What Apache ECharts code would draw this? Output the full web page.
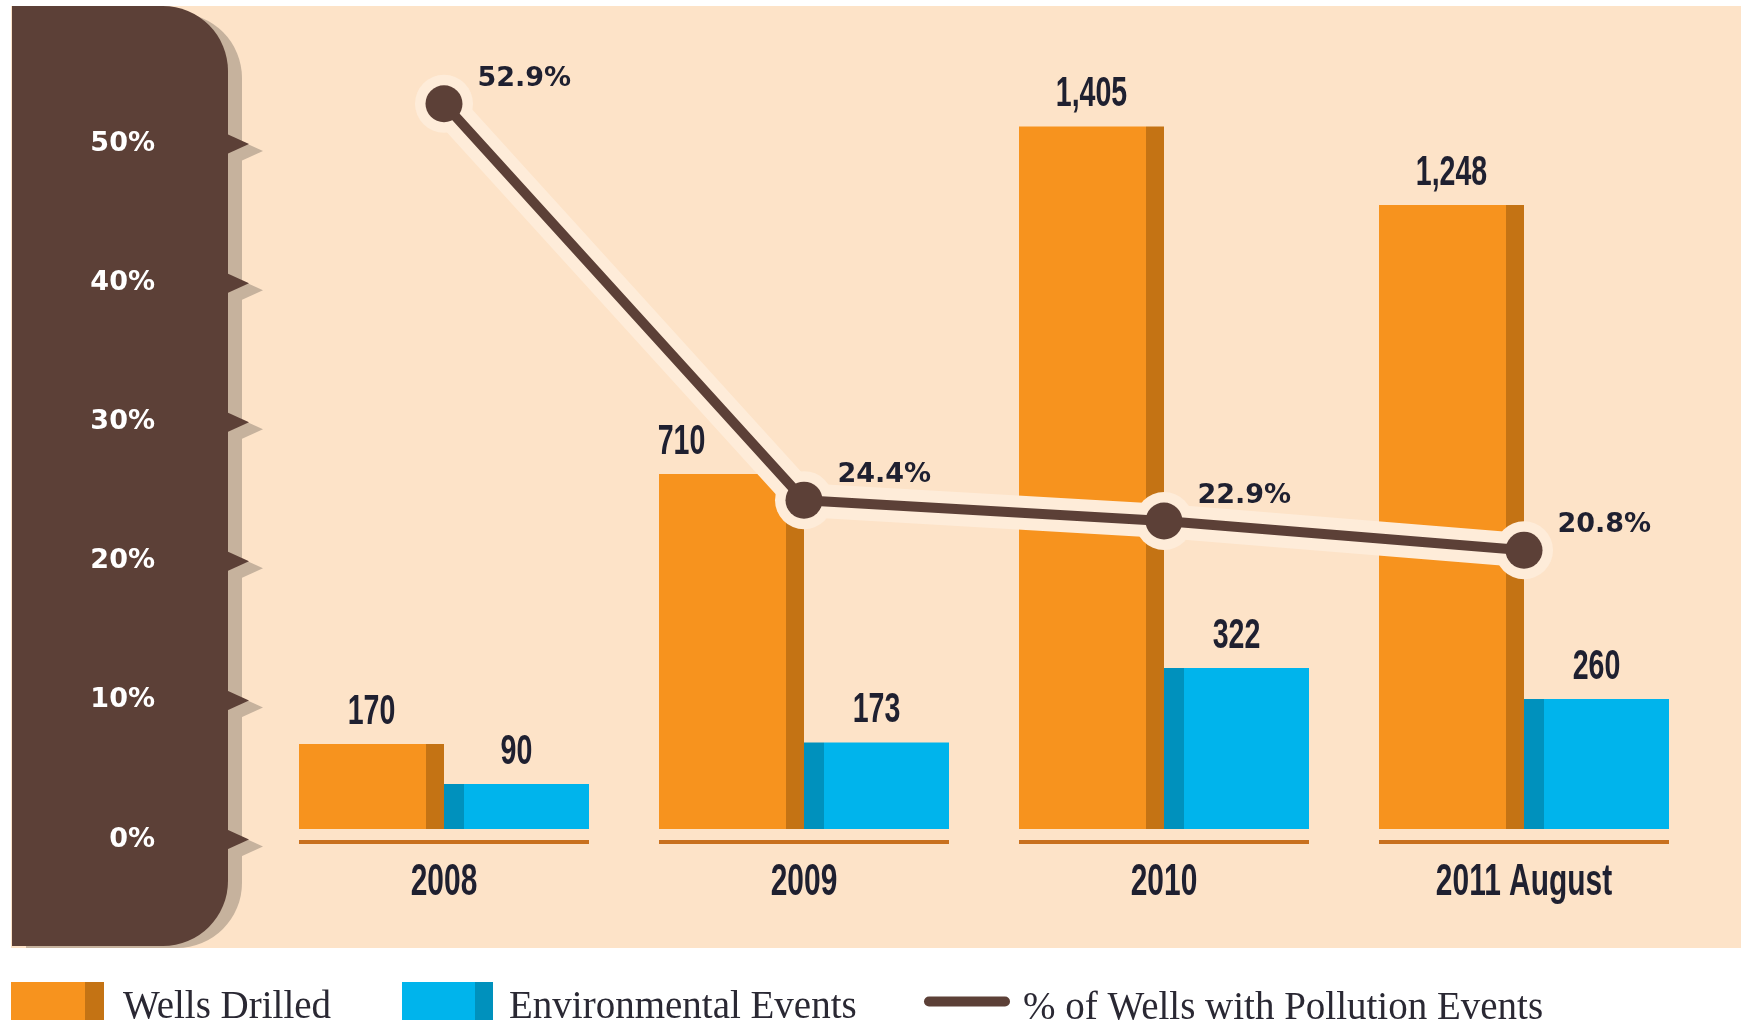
<!DOCTYPE html>
<html>
<head>
<meta charset="utf-8">
<title>Wells Drilled and Environmental Events</title>
<script src="https://cdn.jsdelivr.net/npm/echarts@6/dist/echarts.min.js"></script>
<style>
  html, body { margin: 0; padding: 0; background: #ffffff; }
  #chart { width: 1748px; height: 1023px; }
</style>
</head>
<body>
<div id="chart"></div>
<script>
// data
const years = ['2008', '2009', '2010', '2011 August'];
const wellsDrilled = [170, 710, 1405, 1248];
const envEvents = [90, 173, 322, 260];
const pollutionPct = [52.9, 24.4, 22.9, 20.8];
const pctTicks = [0, 10, 20, 30, 40, 50];
const seriesNames = ['Wells Drilled', 'Environmental Events', '% of Wells with Pollution Events'];

// colours
const peach = '#fde3c8';
const brown = '#5c4037';
const brownShadow = '#c6b29d';
const orange = '#f7931e';
const orangeDark = '#c47314';
const blue = '#00b4ec';
const blueDark = '#0091bd';
const glow = '#feecd9';
const ink = '#1f2030';
const underline = '#c8701e';

// sizes
const BAR_W = 145;
const gothicValue = 'bold 42px "Liberation Sans", "DejaVu Sans", sans-serif';   // squeezed with scaleX
const gothicYear = 'bold 44px "Liberation Sans", "DejaVu Sans", sans-serif';
const SQUEEZE = 0.68;
const wellsLabelNudge = [0, -50, 0, 0];   // the 2009 label sits left of the line

// hard-edged gradient = flat face + darker side strip
function split(c1, c2, at) {
    return new echarts.graphic.LinearGradient(0, 0, 1, 0, [
        { offset: 0, color: c1 }, { offset: at, color: c1 },
        { offset: at, color: c2 }, { offset: 1, color: c2 }
    ]);
}

// condensed value labels above the bars (side: -1 left bar, +1 right bar)
function valueLabels(values, side, nudge) {
    return {
        type: 'custom', xAxisIndex: 0, yAxisIndex: 0, z: 6, silent: true,
        data: values.map((v, i) => [i, v]),
        renderItem: (params, api) => {
            const p = api.coord([api.value(0), api.value(1)]);
            const dx = side * BAR_W / 2 + (nudge ? nudge[params.dataIndex] : 0);
            return {
                type: 'text', x: p[0] + dx, y: p[1] - 11, scaleX: SQUEEZE,
                style: {
                    text: api.value(1).toLocaleString('en-US'),
                    align: 'center', verticalAlign: 'bottom',
                    font: gothicValue, fill: ink
                }
            };
        }
    };
}

// serif legend text, pushed a little below the swatch centre
function legendText(gap) {
    return {
        rich: {
            t: {
                fontFamily: '"Liberation Serif", serif', fontSize: 39, color: '#2a2833',
                padding: [14, 0, 0, gap]
            }
        }
    };
}

const chart = echarts.init(document.getElementById('chart'));

const pill = 'path://M5,0 H81 A5,5 0 0 1 81,10 H5 A5,5 0 0 1 5,0 Z';

const option = {
    animation: false,
    backgroundColor: '#ffffff',
    grid: [
        { left: 264, right: 44, top: 29, bottom: 194 },     // bars
        { left: 264, right: 44, top: 5, bottom: 183.5 }      // percentage line
    ],
    xAxis: [
        { type: 'category', gridIndex: 0, data: years, show: false },
        { type: 'category', gridIndex: 1, data: years, show: false }
    ],
    yAxis: [
        { type: 'value', gridIndex: 0, min: 0, max: 1600, show: false },
        {
            type: 'value', gridIndex: 1, min: 0, max: 60, interval: 10,
            axisLine: { show: false }, axisTick: { show: false }, splitLine: { show: false },
            axisLabel: {
                margin: 109, showMaxLabel: false,
                formatter: v => v + '%',
                padding: [8, 0, 0, 0],
                fontFamily: '"DejaVu Sans", sans-serif', fontWeight: 'bold', fontSize: 27, color: '#ffffff'
            }
        }
    ],
    legend: [
        {
            data: [{ name: seriesNames[0], itemStyle: { color: split(orange, orangeDark, 0.8) } }],
            left: 11, top: 982, padding: 0, itemWidth: 93, itemHeight: 38, icon: 'rect', selectedMode: false,
            formatter: '{t|{name}}', textStyle: legendText(14)
        },
        {
            data: [{ name: seriesNames[1], itemStyle: { color: split(blue, blueDark, 0.8) } }],
            left: 402, top: 982, padding: 0, itemWidth: 91, itemHeight: 38, icon: 'rect', selectedMode: false,
            formatter: '{t|{name}}', textStyle: legendText(11)
        },
        {
            data: [{ name: seriesNames[2], icon: pill, itemStyle: { color: brown } }],
            left: 924, top: 989, padding: 0, itemWidth: 86, itemHeight: 12, selectedMode: false,
            formatter: '{t|{name}}', textStyle: legendText(8)
        }
    ],
    series: [
        {
            name: seriesNames[0], type: 'bar', xAxisIndex: 0, yAxisIndex: 0,
            data: wellsDrilled, barWidth: BAR_W, barGap: '0%',
            itemStyle: { color: split(orange, orangeDark, 0.875) }
        },
        {
            name: seriesNames[1], type: 'bar', xAxisIndex: 0, yAxisIndex: 0,
            data: envEvents, barWidth: BAR_W,
            itemStyle: { color: split(blueDark, blue, 0.135) }
        },
        {
            // light halo under the line
            name: 'halo', type: 'line', xAxisIndex: 1, yAxisIndex: 1,
            data: pollutionPct, silent: true, z: 3,
            symbol: 'circle', symbolSize: 58,
            lineStyle: { color: glow, width: 34 },
            itemStyle: { color: glow }
        },
        {
            name: seriesNames[2], type: 'line', xAxisIndex: 1, yAxisIndex: 1,
            data: pollutionPct, z: 4,
            symbol: 'circle', symbolSize: 37,
            lineStyle: { color: brown, width: 10 },
            itemStyle: { color: brown },
            label: {
                show: true, position: 'right', distance: 15, offset: [0, -25],
                formatter: p => p.value.toFixed(1) + '%',
                fontFamily: '"DejaVu Sans", sans-serif', fontWeight: 'bold', fontSize: 27, color: ink
            }
        },
        valueLabels(wellsDrilled, -1, wellsLabelNudge),
        valueLabels(envEvents, 1, null),
        {
            // per-category underline and year label
            type: 'custom', xAxisIndex: 0, yAxisIndex: 0, z: 6, silent: true,
            data: years.map((y, i) => [i, 0]),
            renderItem: (params, api) => {
                const p = api.coord([api.value(0), 0]);
                return {
                    type: 'group',
                    children: [
                        {
                            type: 'line',
                            shape: { x1: p[0] - BAR_W, y1: p[1] + 13, x2: p[0] + BAR_W, y2: p[1] + 13 },
                            style: { stroke: underline, lineWidth: 4 }
                        },
                        {
                            type: 'text', x: p[0], y: p[1] + 54, scaleX: SQUEEZE,
                            style: {
                                text: years[params.dataIndex],
                                align: 'center', verticalAlign: 'middle',
                                font: gothicYear, fill: ink
                            }
                        }
                    ]
                };
            }
        }
    ]
};

chart.setOption(option);

// left brown axis panel with notch ticks, placed from the axis scale
const tickYs = pctTicks.map(v => chart.convertToPixel({ yAxisIndex: 1 }, v));
const panelX = 12, panelW = 216, sx = 14, sy = 7;
const graphics = [
    { type: 'rect', z: -30, silent: true, shape: { x: 11, y: 6, width: 1730, height: 942 }, style: { fill: peach } },
    { type: 'rect', z: -25, silent: true, shape: { x: panelX + sx, y: 6 + sy, width: panelW, height: 935, r: [0, 65, 65, 0] }, style: { fill: brownShadow } },
    { type: 'rect', z: -20, silent: true, shape: { x: panelX, y: 6, width: panelW, height: 940, r: [0, 65, 65, 0] }, style: { fill: brown } }
];
const edge = panelX + panelW - 1;
tickYs.forEach(y => {
    graphics.push({
        type: 'polygon', z: -25, silent: true,
        shape: { points: [[edge + sx, y - 10 + sy], [edge + 22 + sx, y + sy], [edge + sx, y + 10 + sy]] },
        style: { fill: brownShadow }
    });
    graphics.push({
        type: 'polygon', z: -20, silent: true,
        shape: { points: [[edge, y - 10], [edge + 22, y], [edge, y + 10]] },
        style: { fill: brown }
    });
});
chart.setOption({ graphic: graphics });
</script>
</body>
</html>
